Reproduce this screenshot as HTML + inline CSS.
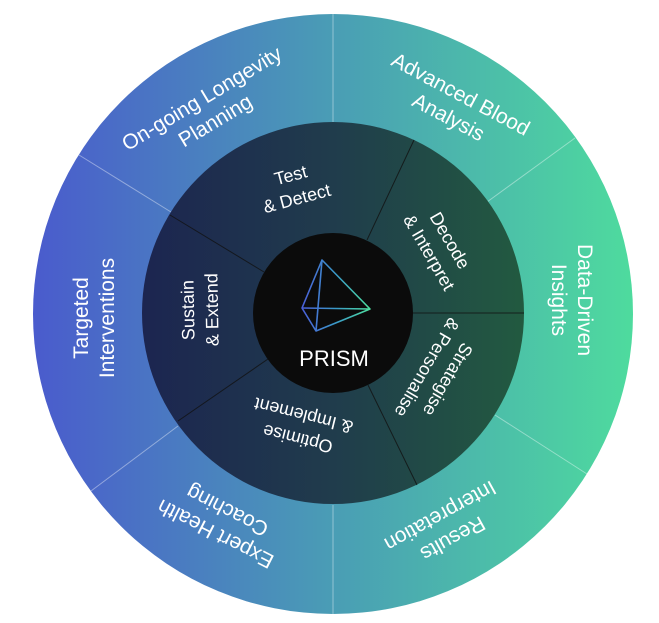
<!DOCTYPE html>
<html><head><meta charset="utf-8"><style>
html,body{margin:0;padding:0;background:#fff;width:659px;height:623px;overflow:hidden}
svg text{font-family:"Liberation Sans","DejaVu Sans",sans-serif;fill:#fff;text-anchor:middle}
</style></head><body>
<svg width="659" height="623" viewBox="0 0 659 623" xmlns="http://www.w3.org/2000/svg">
<defs>
<linearGradient id="og" x1="33" y1="0" x2="633" y2="0" gradientUnits="userSpaceOnUse">
<stop offset="0" stop-color="#4a5bcd"/><stop offset="0.5" stop-color="#4a9db5"/><stop offset="1" stop-color="#4edb9e"/>
</linearGradient>
<linearGradient id="ig" x1="142" y1="0" x2="524" y2="0" gradientUnits="userSpaceOnUse">
<stop offset="0" stop-color="#1c2550"/><stop offset="0.5" stop-color="#203c4c"/><stop offset="1" stop-color="#225a40"/>
</linearGradient>
<linearGradient id="pg" x1="302" y1="0" x2="370" y2="0" gradientUnits="userSpaceOnUse">
<stop offset="0" stop-color="#4a5fd8"/><stop offset="0.5" stop-color="#3a9ac8"/><stop offset="1" stop-color="#4ee0a0"/>
</linearGradient>
</defs>
<circle cx="333" cy="314" r="300" fill="url(#og)"/>
<g stroke="#ffffff" stroke-opacity="0.4" stroke-width="1">
<line x1="333" y1="14" x2="333" y2="123"/>
<line x1="333" y1="505" x2="333" y2="614"/>
<line x1="575" y1="138" x2="487" y2="202"/>
<line x1="587" y1="474" x2="495" y2="415"/>
<line x1="91" y1="491" x2="178" y2="426"/>
<line x1="79" y1="155" x2="171" y2="212"/>
</g>
<circle cx="333" cy="313" r="191" fill="url(#ig)"/>
<g stroke="#111" stroke-opacity="0.8" stroke-width="1">
<line x1="367" y1="240" x2="414" y2="140"/>
<line x1="413" y1="313" x2="524" y2="313"/>
<line x1="368" y1="385" x2="417" y2="485"/>
<line x1="268" y1="359" x2="178" y2="421"/>
<line x1="264" y1="272" x2="170" y2="215"/>
</g>
<circle cx="333" cy="313" r="80" fill="#0b0b0b"/>
<g stroke="url(#pg)" stroke-width="1.6" fill="none" stroke-linejoin="round">
<polygon points="322,260 302,308 316,331 370,309"/>
<line x1="322" y1="260" x2="316" y2="331"/>
<line x1="302" y1="308" x2="370" y2="309"/>
</g>
<text x="334" y="366" font-size="22" fill="#eee">PRISM</text>

<g font-size="21">
<g transform="translate(207,107) rotate(-31)"><text y="-3">On-going Longevity</text><text y="23">Planning</text></g>
<g transform="translate(456,103) rotate(28)"><text y="-3">Advanced Blood</text><text y="23">Analysis</text></g>
<g transform="translate(575,300) rotate(90)"><text y="-3">Data-Driven</text><text y="23">Insights</text></g>
<g transform="translate(448,530) rotate(151)"><text y="-3">Results</text><text y="23">Interpretation</text></g>
<g transform="translate(220,525) rotate(207)"><text y="-3">Expert Health</text><text y="23">Coaching</text></g>
<g transform="translate(91,318) rotate(-90)"><text y="-3">Targeted</text><text y="23">Interventions</text></g>
</g>
<g font-size="18">
<g transform="translate(293,184) rotate(-15)"><text y="-3">Test</text><text y="21">&amp; Detect</text></g>
<g transform="translate(442,245) rotate(60)"><text y="-3">Decode</text><text y="21">&amp; Interpret</text></g>
<g transform="translate(440,375) rotate(120)"><text y="-3">Strategise</text><text y="21">&amp; Personalise</text></g>
<g transform="translate(300,430) rotate(194)"><text y="-3">Optimise</text><text y="21">&amp; Implement</text></g>
<g transform="translate(197,310) rotate(-91)"><text y="-3">Sustain</text><text y="21">&amp; Extend</text></g>
</g>
</svg>
</body></html>
